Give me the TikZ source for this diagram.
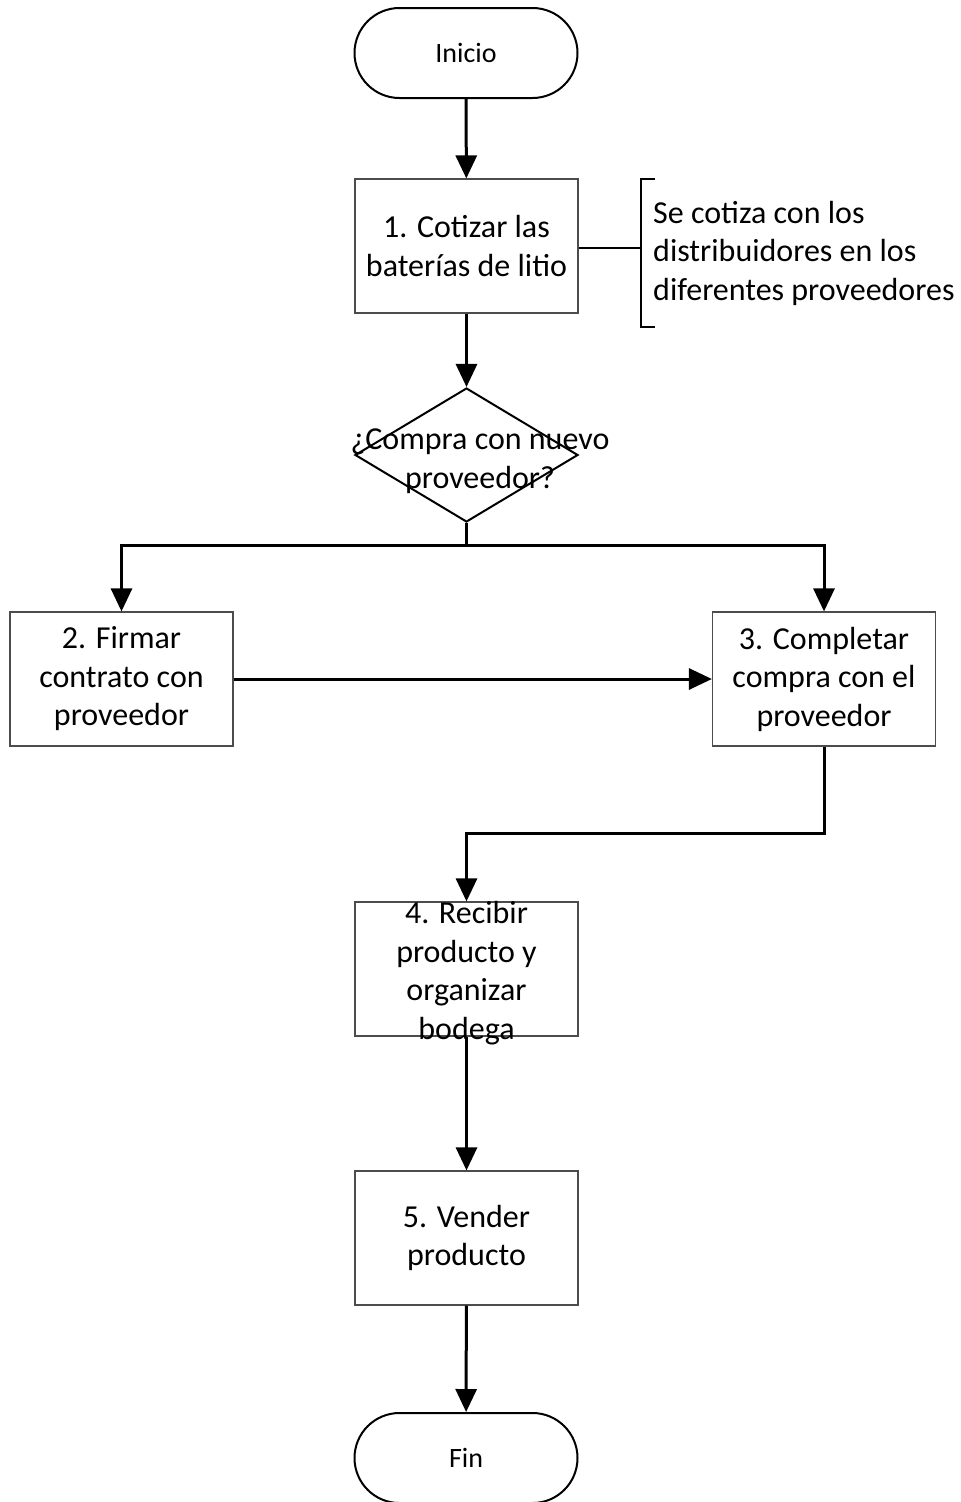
\documentclass[tikz,border=0pt]{standalone}
\usepackage{fontspec}
\setmainfont{Carlito}
\usetikzlibrary{arrows.meta,shapes.geometric}

\begin{document}
\begin{tikzpicture}[x=1pt,y=-1pt,
  txt/.style={font=\fontsize{32}{38.5}\selectfont,align=center,inner sep=0pt},
  stepbox/.style={draw=black!70,line width=1.2pt,fill=white,minimum width=223pt,minimum height=134pt,inner sep=0pt,txt},
  term/.style={draw=black,line width=2pt,rounded corners=45pt,minimum width=223pt,minimum height=90pt,inner sep=0pt,font=\fontsize{28}{33}\selectfont},
  decision/.style={diamond,draw=black,line width=2pt,minimum width=223pt,minimum height=134pt,inner sep=0pt},
  flow/.style={line width=3pt,-{Triangle[length=23pt,width=21pt]}},
  plain/.style={line width=3pt},
  note/.style={line width=2pt}
]
\useasboundingbox (0,0) rectangle (961,1502);

% shapes
\node[term] (inicio) at (466,53) {Inicio};
\node[stepbox] (s1) at (466.5,246) {1. Cotizar las\\baterías de litio};
\node[decision] (dec) at (466.5,455) {};
\node[txt] (dectext) at (480,461) {¿Compra con nuevo\\proveedor?};
\node[stepbox] (s2) at (121.5,679) {2. Firmar\\contrato con\\proveedor};
\node[stepbox] (s3) at (824,679) {3. Completar\\compra con el\\proveedor};
\node[stepbox] (s4) at (466.5,969) {};
\node[txt] (s4text) at (466.5,973) {4. Recibir\\producto y\\organizar\\bodega};
\node[stepbox] (s5) at (466.5,1238) {5. Vender\\producto};
\node[term] (fin) at (466,1458) {Fin};

% annotation
\node[txt,anchor=west,align=left] (nota) at (653,253) {Se cotiza con los\\distribuidores en los\\diferentes proveedores};
\coordinate (brk) at (641,248);
\draw[note] (655,179) -- (641,179) -- (641,327) -- (655,327);
\draw[line width=1.5pt] ([yshift=-2pt]s1.east) -- ([yshift=-2pt]s1.east -| brk);

% connectors
\coordinate (split) at (466.5,545);
\coordinate (join) at (824,833);
\draw[flow] (inicio) -- (s1);
\draw[flow] (s1) -- (dec);
\draw[plain] (dec.south) -- (split);
\draw[flow] (split) -| (s2.north);
\draw[flow] (split) -| (s3.north);
\draw[flow] (s2) -- (s3);
\draw[flow] (s3.south) -- (join) -| (s4.north);
\draw[flow] (s4) -- (s5);
\draw[flow] (s5) -- (fin);
\end{tikzpicture}
\end{document}
